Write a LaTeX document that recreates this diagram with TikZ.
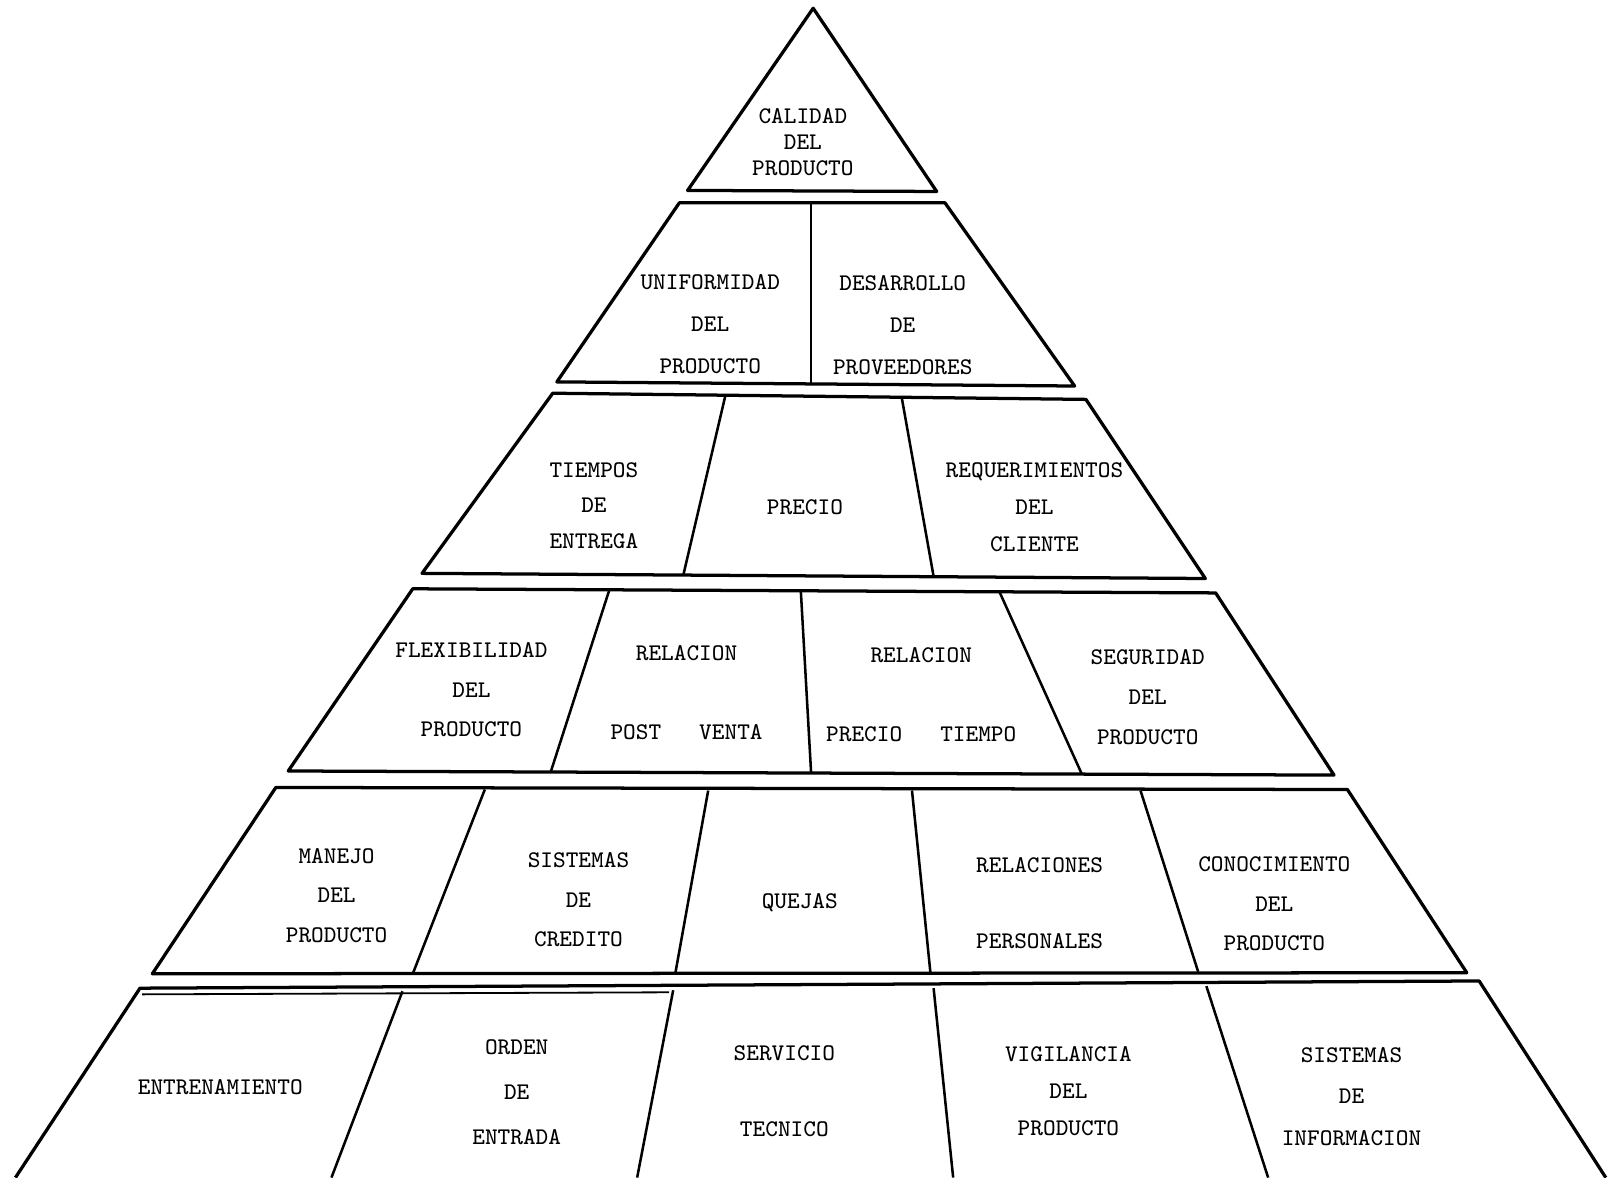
\documentclass[tikz,border=0pt]{standalone}
\usepackage{tikz}
\usetikzlibrary{positioning}

\begin{document}
\begin{tikzpicture}[
    x=0.1mm, y=-0.1mm,
    cell/.style={
        align=center,
        inner sep=0pt,
        font=\fontsize{6.6}{#1}\selectfont\ttfamily
    },
    cell/.default=11,
    tier/.style={line width=0.9pt, line join=round},
    split/.style={line width=0.7pt}
]
\useasboundingbox (0,0) rectangle (1568,1144);

% level 1
\draw [tier] (790,8) -- (910,186) -- (668,185) -- cycle;
\node (calidad) [cell=7.1] at (780,138) {CALIDAD\\DEL\\PRODUCTO};

% level 2
\draw [tier] (660,197) -- (918,197) -- (1044,375) -- (541,371) -- cycle;
\draw [split] (788,197) -- (788,373);
\node (uniform) [cell=11.6] at (690,315) {UNIFORMIDAD\\DEL\\PRODUCTO};
\node (desarr) [cell=11.6] at (877,316) {DESARROLLO\\DE\\PROVEEDORES};

% level 3
\draw [tier] (537,382) -- (1055,388) -- (1171,562) -- (410,557) -- cycle;
\draw [split] (705,383) -- (664,558);
\draw [split] (876,386) -- (907,560);
\node (tiempos) [cell=9.8] at (577,491) {TIEMPOS\\DE\\ENTREGA};
\node (precio) [cell] at (782,493) {PRECIO};
\node (requer) [cell=10.2] at (1005,493) {REQUERIMIENTOS\\DEL\\CLIENTE};

% level 4
\draw [tier] (401,572) -- (1181,576) -- (1296,753) -- (280,749) -- cycle;
\draw [split] (592,573) -- (535,750);
\draw [split] (778,574) -- (788,751);
\draw [split] (971,575) -- (1051,752);
\node (flexib) [cell] at (458,670) {FLEXIBILIDAD\\DEL\\PRODUCTO};
\node (postventa) [cell] at (667,673) {RELACION\\[11pt]POST\ \ \ VENTA};
\node (preciotiempo) [cell] at (895,675) {RELACION\\[11pt]PRECIO\ \ \ TIEMPO};
\node (seguridad) [cell] at (1115,677) {SEGURIDAD\\DEL\\PRODUCTO};

% level 5
\draw [tier] (268,765) -- (1309,767) -- (1425,945) -- (148,946) -- cycle;
\draw [split] (471,767) -- (401,946);
\draw [split] (688,768) -- (656,946);
\draw [split] (886,768) -- (904,946);
\draw [split] (1108,768) -- (1164,944);
\node (manejo) [cell] at (327,870) {MANEJO\\DEL\\PRODUCTO};
\node (credito) [cell] at (562,874) {SISTEMAS\\DE\\CREDITO};
\node (quejas) [cell] at (777,877) {QUEJAS};
\node (personales) [cell=10.5] at (1010,877) {RELACIONES\\[10.5pt]PERSONALES};
\node (conocim) [cell] at (1238,878) {CONOCIMIENTO\\DEL\\PRODUCTO};

% level 6 (cut by the page)
\draw [tier] (15,1144) -- (136,960) -- (1437,953) -- (1560,1144);
\draw [line width=0.5pt] (138,966) -- (650,964);
\draw [split] (391,963) -- (322,1144);
\draw [split] (654,962) -- (619,1144);
\draw [split] (907,960) -- (926,1144);
\draw [split] (1172,958) -- (1232,1144);
\node (entren) [cell] at (214,1056) {ENTRENAMIENTO};
\node (orden) [cell=12.4] at (502,1061) {ORDEN\\DE\\ENTRADA};
\node (servicio) [cell=10.4] at (762,1060) {SERVICIO\\[10.4pt]TECNICO};
\node (vigilancia) [cell=10.1] at (1038,1060) {VIGILANCIA\\DEL\\PRODUCTO};
\node (sistinfo) [cell=11.5] at (1313,1065) {SISTEMAS\\DE\\INFORMACION};

\end{tikzpicture}
\end{document}
